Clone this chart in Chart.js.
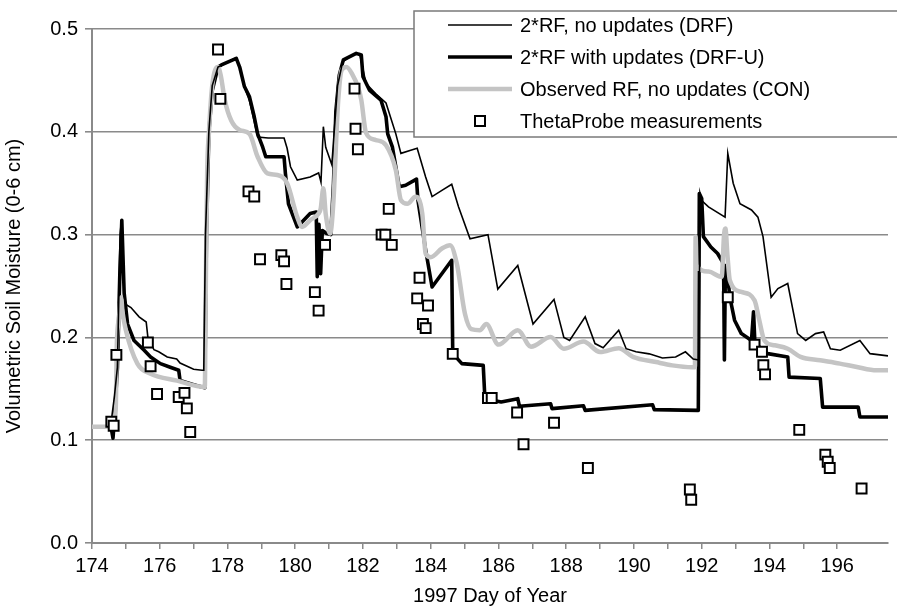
<!DOCTYPE html>
<html lang="en">
<head>
<meta charset="utf-8">
<title>Soil moisture 0-6 cm</title>
<script src="https://cdn.jsdelivr.net/npm/chart.js@4/dist/chart.umd.min.js"></script>
<style>
  body { margin: 0; background: #fff; }
  #wrap { width: 897px; height: 609px; }
</style>
</head>
<body>
<div id="wrap"><canvas id="mycanvas" width="897" height="609"></canvas></div>
<script>
// day of year, volumetric soil moisture
const drfLine = [[174.45,0.113],[174.57,0.119],[174.66,0.142],[174.75,0.171],[174.83,0.30],[174.87,0.314],[174.95,0.24],[175.0,0.232],[175.15,0.229],[175.39,0.22],[175.6,0.215],[175.65,0.200],[175.83,0.188],[175.97,0.186],[176.22,0.181],[176.5,0.179],[176.6,0.175],[177.0,0.169],[177.25,0.168],[177.3,0.168],[177.35,0.30],[177.45,0.40],[177.55,0.445],[177.72,0.463],[177.85,0.465],[178.0,0.468],[178.26,0.472],[178.36,0.463],[178.5,0.444],[178.65,0.43],[178.79,0.41],[178.89,0.395],[179.2,0.394],[179.67,0.394],[179.76,0.384],[179.86,0.366],[180.06,0.353],[180.44,0.356],[180.69,0.36],[180.76,0.351],[180.83,0.405],[180.9,0.385],[181.08,0.368],[181.15,0.40],[181.25,0.445],[181.4,0.468],[181.7,0.475],[181.9,0.476],[182.09,0.447],[182.38,0.437],[182.68,0.428],[182.97,0.398],[183.12,0.379],[183.41,0.382],[183.6,0.384],[183.85,0.356],[184.04,0.337],[184.33,0.343],[184.62,0.349],[184.82,0.327],[185.16,0.296],[185.69,0.300],[185.98,0.247],[186.57,0.270],[187.02,0.213],[187.64,0.237],[187.93,0.200],[188.1,0.197],[188.56,0.220],[188.85,0.194],[189.09,0.190],[189.55,0.207],[189.77,0.189],[190.06,0.186],[190.45,0.184],[190.84,0.180],[191.23,0.181],[191.52,0.186],[191.75,0.179],[191.92,0.178],[191.95,0.34],[192.0,0.333],[192.2,0.327],[192.69,0.317],[192.77,0.379],[192.93,0.35],[193.13,0.33],[193.47,0.324],[193.66,0.317],[193.81,0.298],[194.05,0.239],[194.25,0.2475],[194.54,0.2524],[194.83,0.2037],[195.07,0.197],[195.36,0.2037],[195.6,0.2053],[195.8,0.189],[196.09,0.1875],[196.67,0.197],[196.97,0.1842],[197.5,0.182]];

const drfuLine = [[174.45,0.113],[174.55,0.115],[174.62,0.102],[174.66,0.12],[174.75,0.17],[174.82,0.26],[174.88,0.314],[174.95,0.243],[175.05,0.213],[175.24,0.197],[175.54,0.1875],[175.73,0.181],[176.02,0.1745],[176.31,0.171],[176.56,0.168],[176.6,0.158],[177.0,0.154],[177.33,0.151],[177.38,0.30],[177.45,0.40],[177.55,0.44],[177.72,0.463],[177.82,0.465],[178.26,0.4715],[178.36,0.463],[178.5,0.444],[178.65,0.434],[178.79,0.4146],[178.89,0.398],[179.04,0.385],[179.13,0.3757],[179.67,0.3757],[179.71,0.3595],[179.8,0.33],[180.06,0.3075],[180.44,0.3205],[180.62,0.322],[180.65,0.259],[180.7,0.31],[180.75,0.262],[180.8,0.304],[180.93,0.301],[181.05,0.30],[181.13,0.35],[181.2,0.42],[181.3,0.455],[181.42,0.47],[181.8,0.4763],[181.95,0.4747],[182.0,0.4535],[182.19,0.4406],[182.53,0.4309],[182.68,0.4146],[182.73,0.398],[182.87,0.385],[183.07,0.3465],[183.26,0.348],[183.58,0.354],[183.62,0.334],[183.85,0.285],[184.04,0.249],[184.62,0.275],[184.65,0.1842],[184.92,0.1745],[185.55,0.1728],[185.6,0.1404],[186.08,0.1371],[186.57,0.1404],[186.62,0.133],[187.54,0.1355],[187.58,0.1307],[188.51,0.1335],[188.56,0.129],[190.55,0.1345],[190.6,0.1297],[191.9,0.129],[191.93,0.34],[192.0,0.335],[192.05,0.298],[192.27,0.288],[192.47,0.2816],[192.62,0.273],[192.65,0.255],[192.67,0.178],[192.7,0.27],[192.75,0.265],[192.83,0.2393],[192.97,0.2167],[193.17,0.2037],[193.47,0.197],[193.53,0.225],[193.57,0.195],[193.7,0.1907],[193.95,0.1842],[194.54,0.181],[194.58,0.1614],[195.5,0.16],[195.57,0.1322],[196.62,0.1322],[196.67,0.1225],[197.5,0.1225]];

const conLine = [[174.0,0.113],[174.6,0.113],[174.7,0.13],[174.73,0.19],[174.8,0.22],[174.86,0.239],[174.9,0.225],[175.0,0.207],[175.34,0.1745],[175.73,0.1647],[176.51,0.158],[177.33,0.1517],[177.36,0.25],[177.4,0.36],[177.45,0.398],[177.55,0.445],[177.72,0.463],[177.8,0.455],[177.92,0.431],[178.11,0.411],[178.36,0.4017],[178.65,0.398],[178.89,0.3757],[179.18,0.3595],[179.47,0.358],[179.76,0.35],[180.06,0.317],[180.2,0.3075],[180.44,0.314],[180.69,0.3205],[180.75,0.325],[180.83,0.345],[180.9,0.32],[181.03,0.301],[181.13,0.3335],[181.22,0.40],[181.27,0.431],[181.37,0.46],[181.51,0.463],[181.7,0.455],[181.85,0.444],[181.95,0.431],[182.09,0.399],[182.38,0.392],[182.68,0.387],[182.97,0.3627],[183.12,0.3335],[183.31,0.330],[183.55,0.3367],[183.75,0.3205],[183.85,0.2816],[184.0,0.278],[184.33,0.2865],[184.57,0.2897],[184.77,0.2718],[185.01,0.223],[185.2,0.208],[185.45,0.207],[185.64,0.213],[186.0,0.193],[186.57,0.207],[186.96,0.191],[187.54,0.2004],[187.93,0.189],[188.51,0.196],[189.0,0.1858],[189.55,0.1895],[189.97,0.181],[190.65,0.176],[191.13,0.1728],[191.71,0.171],[191.8,0.171],[191.82,0.298],[191.85,0.27],[192.2,0.264],[192.59,0.259],[192.66,0.30],[192.7,0.306],[192.76,0.28],[192.83,0.2556],[193.17,0.2442],[193.56,0.236],[193.7,0.2167],[193.85,0.197],[194.15,0.1923],[194.54,0.189],[194.92,0.181],[195.5,0.1777],[196.08,0.1745],[196.58,0.1712],[197.16,0.168],[197.5,0.168]];

const probeObs = [[174.57,0.118],[174.64,0.114],[174.72,0.183],[175.65,0.195],[175.73,0.172],[175.92,0.145],[176.56,0.142],[176.73,0.146],[176.8,0.131],[176.9,0.108],[177.72,0.48],[177.79,0.432],[178.62,0.342],[178.79,0.337],[178.96,0.276],[179.59,0.28],[179.67,0.274],[179.74,0.252],[180.58,0.244],[180.69,0.226],[180.88,0.29],[181.75,0.442],[181.78,0.403],[181.85,0.383],[182.55,0.30],[182.66,0.30],[182.76,0.325],[182.85,0.29],[183.6,0.238],[183.67,0.258],[183.77,0.213],[183.85,0.209],[183.92,0.231],[184.65,0.184],[185.69,0.141],[185.8,0.141],[186.55,0.127],[186.74,0.096],[187.64,0.117],[188.64,0.073],[191.65,0.052],[191.69,0.042],[192.77,0.239],[193.56,0.193],[193.78,0.186],[193.82,0.173],[193.87,0.164],[194.88,0.11],[195.65,0.086],[195.72,0.079],[195.78,0.073],[196.72,0.053]];

const seriesNames = ["2*RF, no updates (DRF)", "2*RF with updates (DRF-U)", "Observed RF, no updates (CON)", "ThetaProbe measurements"];
const xMin = 174, xMax = 197.5;
const yMin = 0, yMax = 0.5;

const FONT = "'Liberation Sans', Arial, Helvetica, sans-serif";
const GRID = "#8a8a8a";

function pts(arr) { return arr.map(p => ({x: p[0], y: p[1]})); }

// legend box drawn inside the plot (top right)
const boxLegend = {
  id: 'boxLegend',
  afterDraw(chart) {
    const ctx = chart.ctx;
    const bx = 414, by = 11, bw = 490, bh = 126;
    ctx.save();
    ctx.fillStyle = "#fff";
    ctx.fillRect(bx, by, bw, bh);
    ctx.strokeStyle = "#7a7a7a";
    ctx.lineWidth = 1.5;
    ctx.strokeRect(bx, by, bw, bh);
    const rows = [25, 57, 89, 121];
    const styles = [
      {c: "#000", w: 1.6},
      {c: "#000", w: 3.6},
      {c: "#c4c4c4", w: 4.5}
    ];
    for (let i = 0; i < 3; i++) {
      ctx.beginPath();
      ctx.strokeStyle = styles[i].c;
      ctx.lineWidth = styles[i].w;
      ctx.moveTo(448, rows[i]);
      ctx.lineTo(512, rows[i]);
      ctx.stroke();
    }
    ctx.fillStyle = "#fff";
    ctx.strokeStyle = "#000";
    ctx.lineWidth = 2;
    ctx.fillRect(475, rows[3] - 5, 10, 10);
    ctx.strokeRect(475, rows[3] - 5, 10, 10);
    ctx.fillStyle = "#000";
    ctx.font = "20px " + FONT;
    ctx.textBaseline = "middle";
    ctx.textAlign = "left";
    seriesNames.forEach((t, i) => ctx.fillText(t, 520, rows[i] + 1));
    ctx.restore();
  }
};

const ctx_live = document.getElementById("mycanvas");
const myChart = new Chart(ctx_live, {
  type: 'scatter',
  data: {
    datasets: [
      { // measurements on top
        label: seriesNames[3],
        data: pts(probeObs),
        pointStyle: 'rect',
        pointRadius: 7,
        pointBackgroundColor: "#fff",
        pointBorderColor: "#000",
        pointBorderWidth: 2,
        showLine: false,
        order: 0
      },
      {
        label: seriesNames[0],
        data: pts(drfLine),
        showLine: true,
        borderColor: "#000",
        borderWidth: 1.6,
        pointRadius: 0,
        order: 1
      },
      {
        label: seriesNames[2],
        data: pts(conLine),
        showLine: true,
        borderColor: "#c4c4c4",
        borderWidth: 4.5,
        pointRadius: 0,
        cubicInterpolationMode: 'monotone',
        order: 2
      },
      {
        label: seriesNames[1],
        data: pts(drfuLine),
        showLine: true,
        borderColor: "#000",
        borderWidth: 3.6,
        borderJoinStyle: 'round',
        pointRadius: 0,
        order: 3
      }
    ]
  },
  options: {
    responsive: false,
    animation: false,
    devicePixelRatio: 1,
    layout: { padding: { top: 29, right: 0, left: 0, bottom: 0 } },
    scales: {
      x: {
        type: 'linear',
        min: xMin,
        max: xMax,
        afterBuildTicks: s => { s.ticks = s.ticks.filter(t => Number.isInteger(t.value)); },
        afterFit: s => { s.height = 66; },
        ticks: {
          stepSize: 1,
          autoSkip: false,
          maxRotation: 0,
          padding: 5,
          color: "#000",
          font: { family: FONT, size: 20 },
          callback: v => (v % 2 === 0 ? String(v) : '')
        },
        grid: { drawOnChartArea: false, drawTicks: true, tickLength: 6, color: GRID, lineWidth: 1.5 },
        border: { color: GRID, width: 2 },
        title: {
          display: true,
          text: "1997 Day of Year",
          color: "#000",
          font: { family: FONT, size: 20 },
          padding: { top: 0, bottom: 1 }
        }
      },
      y: {
        min: yMin,
        max: yMax,
        afterFit: s => { s.width = 92; },
        ticks: {
          stepSize: 0.1,
          padding: 7,
          color: "#000",
          font: { family: FONT, size: 20 },
          callback: v => v.toFixed(1)
        },
        grid: { color: GRID, lineWidth: 1.6, tickLength: 7 },
        border: { color: GRID, width: 2 },
        title: {
          display: true,
          text: "Volumetric Soil Moisture (0-6 cm)",
          color: "#000",
          font: { family: FONT, size: 20 },
          padding: { top: 2, bottom: 0 }
        }
      }
    },
    plugins: {
      legend: { display: false },
      tooltip: { enabled: false }
    }
  },
  plugins: [boxLegend]
});
</script>
</body>
</html>
